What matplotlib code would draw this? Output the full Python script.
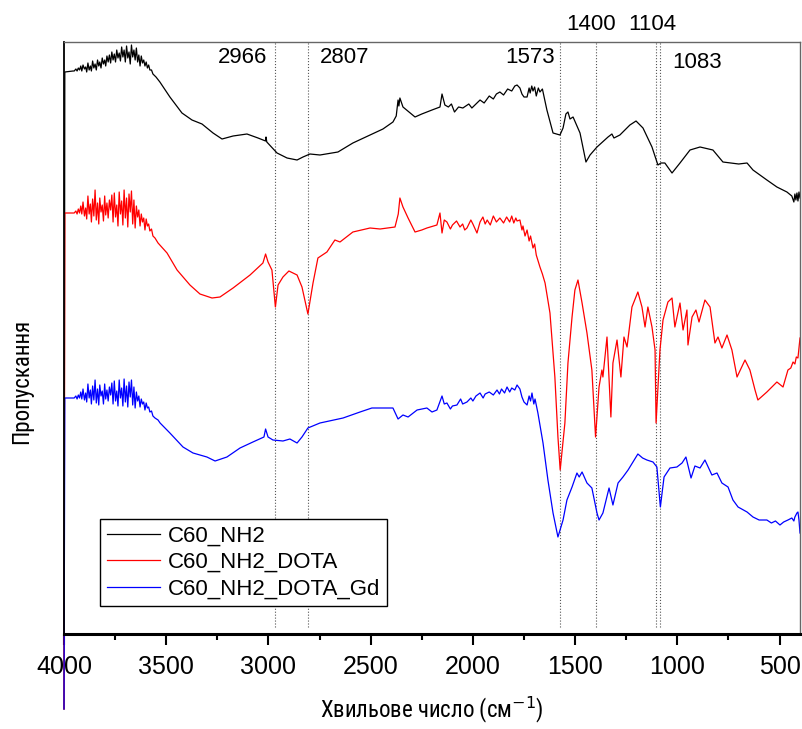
import os
import numpy as np
import matplotlib
matplotlib.use("Agg")
import matplotlib.pyplot as plt
from matplotlib.ticker import MultipleLocator
import matplotlib.transforms as mtransforms
from matplotlib import font_manager as fm

plt.rcParams['font.family'] = ['Liberation Sans', 'DejaVu Sans']

# (wavenumber cm-1, transmittance a.u.)
c60_nh2 = [
    (4000, -75), (3996, 562), (3956, 563), (3950, 563), (3942, 565), (3936, 563),
    (3930, 566), (3924, 564), (3918, 568), (3913, 563), (3907, 569), (3900, 565),
    (3894, 567), (3889, 562), (3883, 571), (3877, 564), (3871, 568), (3866, 563),
    (3860, 573), (3854, 566), (3848, 570), (3842, 564), (3836, 574), (3830, 568),
    (3825, 572), (3819, 566), (3813, 576), (3807, 570), (3801, 574), (3796, 568),
    (3790, 578), (3784, 572), (3778, 579), (3772, 571), (3766, 582), (3760, 574),
    (3754, 580), (3748, 572), (3742, 584), (3736, 576), (3730, 581), (3724, 573),
    (3718, 587), (3712, 577), (3706, 584), (3700, 572), (3694, 588), (3688, 576),
    (3682, 582), (3676, 570), (3670, 589), (3664, 577), (3658, 584), (3652, 574),
    (3646, 586), (3640, 572), (3634, 579), (3628, 568), (3622, 578), (3616, 571),
    (3610, 574), (3604, 568), (3598, 572), (3592, 566), (3586, 569), (3580, 564),
    (3572, 564), (3565, 560), (3550, 557), (3531, 552), (3482, 537), (3423, 521),
    (3374, 514), (3325, 510), (3271, 501), (3227, 495), (3173, 498), (3105, 500),
    (3051, 496), (3014, 493), (3012, 497), (3008, 492), (2958, 481), (2909, 476),
    (2860, 474), (2831, 477), (2797, 480), (2748, 479), (2660, 482), (2587, 491),
    (2503, 499), (2440, 505), (2391, 512), (2375, 518), (2366, 534), (2362, 528),
    (2357, 536), (2342, 527), (2283, 517), (2250, 520), (2225, 522), (2200, 524),
    (2161, 527), (2151, 540), (2137, 529), (2120, 527), (2105, 530), (2090, 522),
    (2070, 527), (2049, 526), (2020, 530), (2005, 526), (1990, 529), (1965, 534),
    (1945, 531), (1920, 538), (1900, 535), (1885, 540), (1868, 542), (1850, 539),
    (1830, 545), (1810, 543), (1795, 548), (1784, 549), (1770, 546), (1760, 540),
    (1750, 537), (1735, 537), (1725, 546), (1720, 541), (1712, 548), (1706, 543),
    (1698, 547), (1690, 538), (1680, 546), (1672, 542), (1660, 545), (1638, 524),
    (1608, 501), (1574, 499), (1559, 506), (1545, 520), (1535, 522), (1525, 515),
    (1510, 517), (1476, 501), (1447, 472), (1427, 479), (1393, 487), (1339, 497),
    (1320, 500), (1310, 496), (1281, 499), (1232, 509), (1202, 513), (1168, 506),
    (1124, 487), (1095, 469), (1080, 471), (1061, 471), (1026, 461), (987, 471),
    (938, 484), (889, 487), (826, 484), (777, 472), (700, 470), (659, 471),
    (630, 464), (562, 454), (513, 447), (464, 442), (440, 438), (430, 432),
    (425, 440), (420, 434), (415, 441), (410, 433), (405, 442), (400, 436),
]

c60_nh2_dota = [
    (4000, -75), (3996, 421), (3956, 421), (3950, 421), (3942, 423), (3936, 420),
    (3930, 425), (3924, 421), (3918, 428), (3913, 420), (3907, 432), (3900, 418),
    (3894, 426), (3889, 415), (3883, 438), (3877, 420), (3871, 430), (3866, 412),
    (3860, 435), (3854, 418), (3848, 444), (3842, 414), (3836, 431), (3830, 410),
    (3825, 436), (3819, 422), (3813, 429), (3807, 413), (3801, 438), (3796, 419),
    (3790, 431), (3784, 416), (3778, 434), (3772, 424), (3766, 439), (3760, 412),
    (3754, 441), (3748, 417), (3742, 429), (3736, 408), (3730, 442), (3724, 420),
    (3718, 433), (3712, 409), (3706, 444), (3700, 416), (3694, 436), (3688, 407),
    (3682, 440), (3676, 422), (3670, 443), (3664, 410), (3658, 434), (3652, 406),
    (3646, 428), (3640, 417), (3634, 424), (3628, 408), (3622, 420), (3616, 412),
    (3610, 416), (3604, 404), (3598, 415), (3592, 408), (3586, 410), (3580, 403),
    (3572, 405), (3565, 398), (3555, 396), (3540, 391), (3496, 381), (3447, 364),
    (3384, 349), (3335, 340), (3276, 336), (3237, 337), (3173, 346), (3090, 359),
    (3027, 371), (3014, 380), (3002, 372), (2983, 364), (2966, 327), (2953, 349),
    (2929, 357), (2900, 363), (2860, 359), (2836, 347), (2807, 320), (2782, 351),
    (2758, 376), (2714, 382), (2675, 394), (2650, 392), (2587, 402), (2503, 406),
    (2454, 405), (2381, 407), (2365, 420), (2357, 436), (2342, 427), (2317, 416),
    (2283, 402), (2250, 404), (2225, 406), (2176, 409), (2161, 421), (2151, 401),
    (2140, 414), (2127, 412), (2110, 405), (2100, 409), (2080, 413), (2063, 407),
    (2050, 410), (2040, 404), (2029, 406), (2010, 414), (2000, 410), (1980, 401),
    (1965, 412), (1951, 417), (1940, 410), (1930, 414), (1915, 409), (1900, 418),
    (1885, 412), (1868, 416), (1850, 411), (1835, 417), (1820, 412), (1810, 418),
    (1800, 411), (1790, 416), (1784, 413), (1770, 414), (1760, 404), (1755, 408),
    (1745, 398), (1735, 404), (1725, 393), (1718, 398), (1706, 386), (1698, 390),
    (1690, 379), (1672, 367), (1660, 360), (1647, 351), (1623, 321), (1599, 257),
    (1584, 197), (1573, 164), (1550, 211), (1535, 271), (1515, 317), (1501, 344),
    (1486, 354), (1466, 331), (1442, 301), (1418, 264), (1400, 197), (1383, 247),
    (1369, 264), (1364, 257), (1344, 297), (1325, 217), (1315, 271), (1295, 294),
    (1276, 257), (1261, 297), (1246, 287), (1222, 327), (1193, 342), (1173, 327),
    (1158, 307), (1144, 327), (1124, 307), (1109, 284), (1104, 211), (1085, 284),
    (1070, 314), (1046, 332), (1026, 336), (1012, 307), (987, 331), (972, 304),
    (953, 324), (948, 289), (928, 317), (909, 324), (894, 312), (865, 334),
    (840, 327), (816, 291), (801, 297), (782, 286), (757, 299), (733, 284),
    (708, 257), (669, 274), (645, 264), (620, 244), (606, 234), (562, 242),
    (513, 252), (483, 247), (459, 264), (445, 266), (434, 272), (425, 270),
    (418, 277), (410, 276), (400, 296),
]

c60_nh2_dota_gd = [
    (4000, -75), (3996, 236), (3956, 236), (3950, 236), (3942, 238), (3936, 235),
    (3930, 239), (3924, 236), (3918, 242), (3913, 235), (3907, 245), (3900, 234),
    (3894, 241), (3889, 232), (3883, 250), (3877, 236), (3871, 244), (3866, 230),
    (3860, 248), (3854, 234), (3848, 254), (3842, 231), (3836, 245), (3830, 229),
    (3825, 249), (3819, 238), (3813, 243), (3807, 230), (3801, 250), (3796, 235),
    (3790, 244), (3784, 233), (3778, 247), (3772, 239), (3766, 251), (3760, 230),
    (3754, 253), (3748, 233), (3742, 243), (3736, 228), (3730, 254), (3724, 236),
    (3718, 246), (3712, 228), (3706, 255), (3700, 232), (3694, 248), (3688, 227),
    (3682, 252), (3676, 237), (3670, 254), (3664, 229), (3658, 247), (3652, 226),
    (3646, 242), (3640, 233), (3634, 238), (3628, 227), (3622, 235), (3616, 230),
    (3610, 232), (3604, 224), (3598, 231), (3592, 226), (3586, 227), (3580, 222),
    (3572, 223), (3565, 218), (3555, 216), (3540, 214), (3530, 211), (3482, 201),
    (3418, 187), (3369, 181), (3301, 177), (3261, 173), (3203, 177), (3139, 186),
    (3076, 192), (3022, 197), (3014, 205), (3002, 197), (2978, 194), (2929, 193),
    (2895, 195), (2860, 191), (2836, 197), (2807, 206), (2748, 211), (2635, 216),
    (2552, 222), (2494, 226), (2391, 226), (2366, 215), (2342, 219), (2317, 217),
    (2273, 224), (2225, 226), (2200, 222), (2176, 224), (2151, 238), (2140, 230),
    (2127, 231), (2110, 225), (2100, 228), (2078, 229), (2060, 235), (2050, 230),
    (2029, 232), (2010, 236), (2000, 233), (1985, 238), (1965, 241), (1950, 236),
    (1940, 240), (1920, 242), (1900, 239), (1882, 244), (1870, 240), (1860, 245),
    (1845, 241), (1833, 247), (1820, 242), (1810, 246), (1795, 244), (1784, 249),
    (1770, 245), (1760, 237), (1750, 232), (1735, 229), (1725, 238), (1718, 233),
    (1711, 241), (1702, 230), (1696, 235), (1682, 221), (1657, 191), (1633, 154),
    (1608, 121), (1584, 97), (1559, 114), (1540, 134), (1515, 147), (1491, 161),
    (1480, 157), (1466, 162), (1442, 151), (1418, 146), (1393, 121), (1383, 114),
    (1364, 121), (1334, 146), (1315, 129), (1290, 151), (1266, 157), (1241, 164),
    (1217, 172), (1193, 180), (1170, 176), (1149, 174), (1119, 172), (1100, 167),
    (1083, 127), (1065, 157), (1036, 166), (1002, 167), (977, 171), (958, 177),
    (933, 156), (914, 168), (889, 166), (865, 174), (831, 159), (806, 161),
    (782, 151), (752, 147), (728, 134), (703, 127), (659, 122), (630, 117),
    (600, 114), (562, 114), (540, 111), (520, 113), (498, 109), (480, 112),
    (459, 114), (440, 116), (430, 113), (425, 117), (415, 121), (410, 122),
    (405, 114), (400, 101),
]

series_names = ["C60_NH2", "C60_NH2_DOTA", "C60_NH2_DOTA_Gd"]
series_colors = ["black", "red", "blue"]

band_positions = [2966, 2807, 1573, 1400, 1104, 1083]
band_labels = ["2966", "2807", "1573", "1400", "1104", "1083"]
label_x = [3125, 2626, 1721, 1422, 1124, 904]
label_y = [0.973, 0.973, 0.973, 1.029, 1.029, 0.966]


def narrow_font():
    # the axis titles in the original are set in a narrow sans face
    files = [f.fname for f in fm.fontManager.ttflist]
    for start in ['LiberationSansNarrow-Regular', 'ArialNarrow', 'NotoSans-Condensed.',
                  'NotoSans-SemiCondensed.', 'RobotoCondensed-Regular',
                  'DejaVuSansCondensed.']:
        for fn in files:
            if os.path.basename(fn).startswith(start):
                return fn
    for f in fm.fontManager.ttflist:
        nm = f.name.lower()
        if (('narrow' in nm or 'condensed' in nm or 'condensed' in str(f.stretch))
                and f.style == 'normal' and f.weight in (400, 'normal', 'regular')):
            return f.fname
    return None


fig = plt.figure(figsize=(8.03, 7.29), dpi=100)
ax = fig.add_axes([64 / 803, 95 / 729, 736 / 803, 592 / 729])

for data, name, col in zip([c60_nh2, c60_nh2_dota, c60_nh2_dota_gd],
                           series_names, series_colors):
    arr = np.array(data, dtype=float)
    ax.plot(arr[:, 0], arr[:, 1], color=col, lw=0.9, label=name, clip_on=False)

for b in band_positions:
    ax.axvline(b, ymin=0.012, ymax=1, color='#555555', lw=0.8, ls=':', zorder=0)

trans = mtransforms.blended_transform_factory(ax.transData, ax.transAxes)
for x, y, t in zip(label_x, label_y, band_labels):
    ax.text(x, y, t, transform=trans, ha='center', va='center', fontsize=16,
            clip_on=False)

ax.set_xlim(4000, 400)
ax.set_ylim(0, 592)
ax.xaxis.set_major_locator(MultipleLocator(500))
ax.xaxis.set_minor_locator(MultipleLocator(250))
ax.set_yticks([])
ax.tick_params(axis='x', which='major', direction='out', length=8, width=1.5,
               labelsize=18, pad=7, top=False)
ax.tick_params(axis='x', which='minor', direction='out', length=4.5, width=1.5,
               top=False)

ax.spines['bottom'].set_linewidth(2.2)
ax.spines['left'].set_linewidth(1.3)
ax.spines['top'].set_linewidth(1.0)
ax.spines['top'].set_color('#666666')
ax.spines['right'].set_linewidth(1.0)
ax.spines['right'].set_color('#666666')

nf = narrow_font()
if nf:
    lab_prop = fm.FontProperties(fname=nf, size=16.5)
    plt.rcParams['mathtext.fontset'] = 'custom'
    plt.rcParams['mathtext.rm'] = lab_prop.get_name()
    plt.rcParams['mathtext.default'] = 'rm'
else:
    lab_prop = fm.FontProperties(family='DejaVu Sans', stretch='condensed', size=15)
    plt.rcParams['mathtext.default'] = 'regular'

ax.set_xlabel('Хвильове число (см$^{-1}$)', fontproperties=lab_prop)
ax.xaxis.set_label_coords(0.5, -0.102)
ax.set_ylabel('Пропускання', fontproperties=lab_prop)
ax.yaxis.set_label_coords(-0.042, 0.427)

leg = ax.legend(loc='lower left', bbox_to_anchor=(0.049, 0.047), borderaxespad=0,
                fontsize=16, fancybox=False, framealpha=1, edgecolor='black',
                handlelength=2.4, handletextpad=0.35, labelspacing=0.25,
                borderpad=0.3)
leg.get_frame().set_linewidth(1.0)

fig.savefig('out.png', dpi=100)
